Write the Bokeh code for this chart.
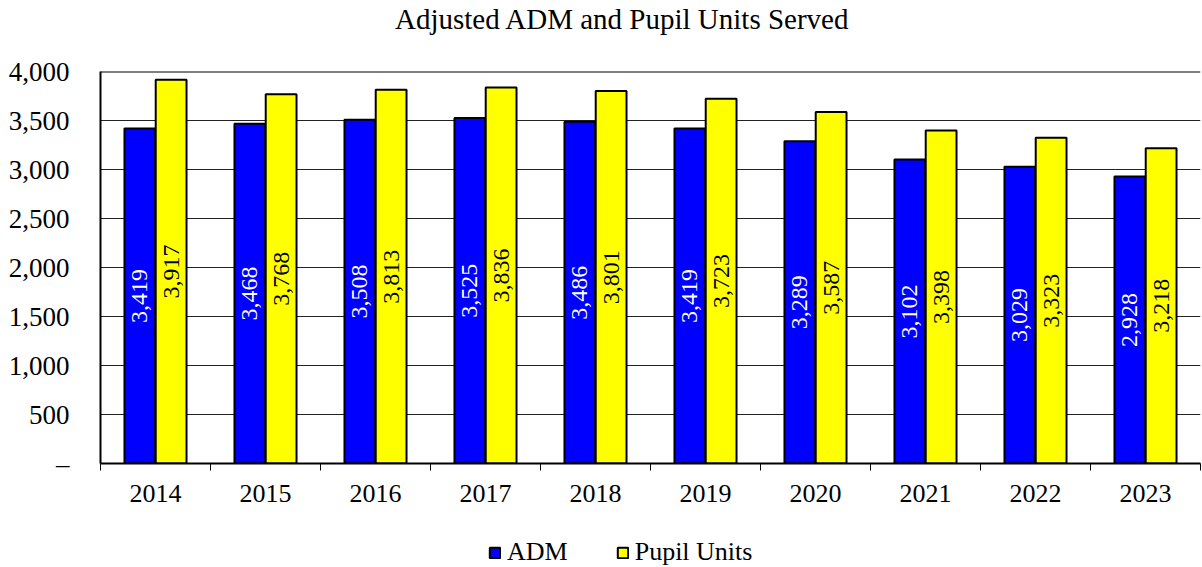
import math
from bokeh.plotting import figure
from bokeh.layouts import column
from bokeh.models import (ColumnDataSource, Range1d, FixedTicker, Legend, LegendItem, Span, Label)
from bokeh.core.properties import value
from bokeh.embed import file_html
from bokeh.resources import INLINE

years = ["2014", "2015", "2016", "2017", "2018", "2019", "2020", "2021", "2022", "2023"]
adm = [3419, 3468, 3508, 3525, 3486, 3419, 3289, 3102, 3029, 2928]
pupil_units = [3917, 3768, 3813, 3836, 3801, 3723, 3587, 3398, 3323, 3218]
y_ticks = [0, 500, 1000, 1500, 2000, 2500, 3000, 3500, 4000]
y_tick_labels = ["–", "500", "1,000", "1,500", "2,000", "2,500", "3,000", "3,500", "4,000"]
series_names = ["ADM", "Pupil Units"]
title_text = "Adjusted ADM and Pupil Units Served"

FONT = "Liberation Serif"
BLUE = "#0000FF"
YELLOW = "#FFFF00"
OFF = 0.142
BW = 0.28
W = 1202
LEFT = 100
RIGHT = 2

idx = list(range(len(years)))
src = ColumnDataSource(dict(
    x_adm=[i - OFF for i in idx],
    x_pu=[i + OFF for i in idx],
    adm=adm,
    pu=pupil_units,
    adm_mid=[v / 2 for v in adm],
    pu_mid=[v / 2 for v in pupil_units],
    adm_lbl=[f"{v:,}" for v in adm],
    pu_lbl=[f"{v:,}" for v in pupil_units],
))

# ---------- header (title) ----------
HEAD_H = 56
head = figure(width=W, height=HEAD_H, output_backend="svg", toolbar_location=None,
              x_range=Range1d(LEFT, W - RIGHT), y_range=Range1d(0, HEAD_H),
              x_axis_location=None, y_axis_location=None,
              min_border_left=LEFT, min_border_right=RIGHT, min_border_top=0, min_border_bottom=0)
head.grid.visible = False
head.outline_line_color = None
head.add_layout(Label(x=622, y=HEAD_H - 18, text=title_text, text_font=FONT,
                      text_font_size="29px", text_color="black",
                      text_align="center", text_baseline="middle"))

# ---------- main chart ----------
fig = figure(width=W, height=464, output_backend="svg", toolbar_location=None,
             x_range=Range1d(-0.5, len(years) - 0.5),
             y_range=Range1d(y_ticks[0], y_ticks[-1]),
             min_border_left=LEFT, min_border_right=RIGHT, min_border_top=15, min_border_bottom=57)
fig.outline_line_color = None
fig.background_fill_color = "white"
fig.border_fill_color = "white"

fig.xgrid.grid_line_color = None
fig.ygrid.grid_line_color = "#222222"
fig.ygrid.grid_line_width = 1

fig.yaxis.ticker = FixedTicker(ticks=y_ticks)
fig.yaxis.major_label_overrides = {t: l for t, l in zip(y_ticks, y_tick_labels)}
fig.yaxis.axis_line_color = "black"
fig.yaxis.axis_line_width = 2
fig.yaxis.major_tick_line_color = None
fig.yaxis.minor_tick_line_color = None
fig.yaxis.major_tick_out = 0
fig.yaxis.major_tick_in = 0
fig.yaxis.major_label_standoff = 31
fig.yaxis.major_label_text_font = FONT
fig.yaxis.major_label_text_font_size = "27px"
fig.yaxis.major_label_text_color = "black"

bounds = [i - 0.5 for i in idx] + [len(years) - 0.5]
fig.xaxis.ticker = FixedTicker(ticks=idx, minor_ticks=bounds)
fig.xaxis.major_label_overrides = {i: y for i, y in zip(idx, years)}
fig.xaxis.axis_line_color = "black"
fig.xaxis.axis_line_width = 2
fig.xaxis.major_tick_line_color = None
fig.xaxis.major_tick_out = 0
fig.xaxis.major_tick_in = 0
fig.xaxis.minor_tick_line_color = "black"
fig.xaxis.minor_tick_line_width = 1
fig.xaxis.minor_tick_out = 7
fig.xaxis.minor_tick_in = 0
fig.xaxis.major_label_standoff = 14
fig.xaxis.major_label_text_font = FONT
fig.xaxis.major_label_text_font_size = "26px"
fig.xaxis.major_label_text_color = "black"

fig.add_layout(Span(location=y_ticks[-1], dimension="width", line_color="black", line_width=2))

fig.vbar(x="x_adm", top="adm", width=BW, source=src, fill_color=BLUE,
         line_color="black", line_width=2)
fig.vbar(x="x_pu", top="pu", width=BW, source=src, fill_color=YELLOW,
         line_color="black", line_width=2)

fig.text(x="x_adm", y="adm_mid", text="adm_lbl", source=src, angle=math.pi / 2,
         text_align="center", text_baseline="middle", text_color="white",
         text_font=value(FONT), text_font_size="24px")
fig.text(x="x_pu", y="pu_mid", text="pu_lbl", source=src, angle=math.pi / 2,
         text_align="center", text_baseline="middle", text_color="black",
         text_font=value(FONT), text_font_size="24px")

# ---------- legend strip ----------
LEG_H = 47
leg = figure(width=W, height=LEG_H, output_backend="svg", toolbar_location=None,
             x_range=Range1d(LEFT, W - RIGHT), y_range=Range1d(0, 1),
             x_axis_location=None, y_axis_location=None,
             min_border_left=LEFT, min_border_right=RIGHT, min_border_top=0, min_border_bottom=0)
leg.grid.visible = False
leg.outline_line_color = None
# legend-only proxy renderers: no drawable data, only their styles are used
proxy = ColumnDataSource(dict(x=[float("nan")], top=[float("nan")]))
lr1 = leg.vbar(x="x", top="top", width=BW, source=proxy, fill_color=BLUE,
               line_color="black", line_width=2)
lr2 = leg.vbar(x="x", top="top", width=BW, source=proxy, fill_color=YELLOW,
               line_color="black", line_width=2)
legend = Legend(items=[LegendItem(label=series_names[0], renderers=[lr1]),
                       LegendItem(label=series_names[1], renderers=[lr2])],
                orientation="horizontal", location=(488 - LEFT, 0),
                border_line_color=None, background_fill_alpha=0,
                glyph_width=13, glyph_height=13, label_standoff=6, spacing=48,
                label_text_font=FONT, label_text_font_size="26px",
                label_text_color="black", margin=0, padding=0)
leg.add_layout(legend, "center")

p = column(head, fig, leg, spacing=0)

open("out.html", "w").write(file_html(p, INLINE))
